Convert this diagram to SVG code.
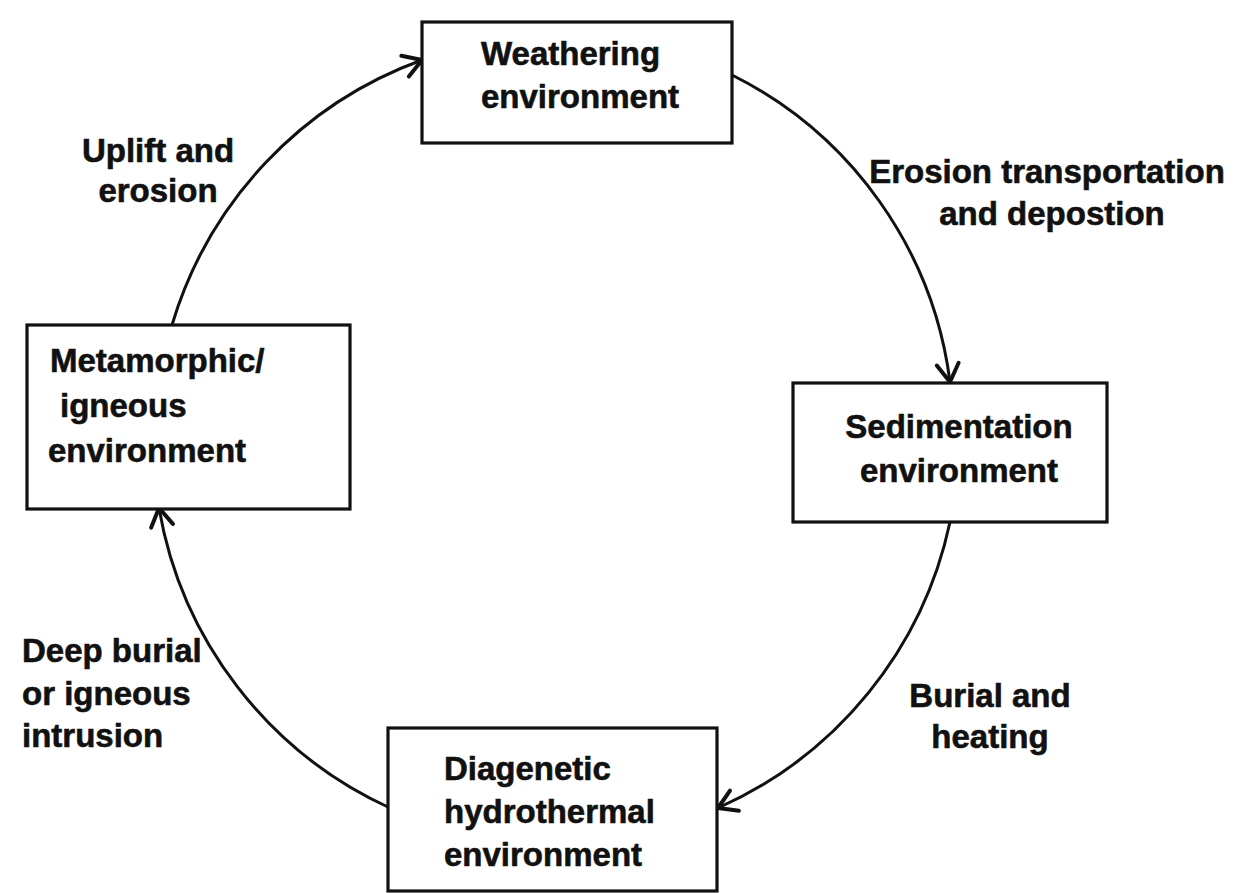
<svg xmlns="http://www.w3.org/2000/svg" width="1235" height="893" viewBox="0 0 1235 893">
  <style>
    .box { fill: #ffffff; stroke: #111111; stroke-width: 3.2; }
    .lbl { font-family: "Liberation Sans", Arial, sans-serif; font-weight: bold; font-size: 33px; fill: #111111; stroke: #111111; stroke-width: 0.6; }
    .mid { text-anchor: middle; }
    .conn { fill: none; stroke: #111111; stroke-width: 3; }
  </style>
  <defs>
    <marker id="arrow" markerUnits="userSpaceOnUse" markerWidth="30" markerHeight="30" viewBox="0 0 30 30" refX="26" refY="15" orient="auto">
      <path d="M8,4 L26,15 L8,26" fill="none" stroke="#111111" stroke-width="4" stroke-linecap="round" stroke-linejoin="round"/>
    </marker>
  </defs>
  <rect width="1235" height="893" fill="#ffffff"/>

  <g id="connectors">
    <path class="conn" d="M172,325 A405,405 0 0 1 422,60" marker-end="url(#arrow)"/>
    <path class="conn" d="M732,75 A400,400 0 0 1 950,382" marker-end="url(#arrow)"/>
    <path class="conn" d="M950,522 A405,405 0 0 1 718,808" marker-end="url(#arrow)"/>
    <path class="conn" d="M390,808 A405,405 0 0 1 159,508" marker-end="url(#arrow)"/>
  </g>

  <g id="node-weathering">
    <rect class="box" x="422" y="22" width="310" height="121"/>
    <text class="lbl" x="481" y="65">Weathering</text>
    <text class="lbl" x="481" y="108">environment</text>
  </g>

  <g id="node-sedimentation">
    <rect class="box" x="793" y="383" width="314" height="139"/>
    <text class="lbl mid" x="959" y="438">Sedimentation</text>
    <text class="lbl mid" x="959" y="482">environment</text>
  </g>

  <g id="node-diagenetic">
    <rect class="box" x="388" y="728" width="329" height="163"/>
    <text class="lbl" x="444" y="780">Diagenetic</text>
    <text class="lbl" x="444" y="823">hydrothermal</text>
    <text class="lbl" x="444" y="866">environment</text>
  </g>

  <g id="node-metamorphic">
    <rect class="box" x="27" y="325" width="323" height="184"/>
    <text class="lbl" x="50" y="372">Metamorphic/</text>
    <text class="lbl" x="60" y="417">igneous</text>
    <text class="lbl" x="48" y="462">environment</text>
  </g>

  <g id="edge-labels">
    <text class="lbl mid" x="158" y="162">Uplift and</text>
    <text class="lbl mid" x="158" y="202">erosion</text>
    <text class="lbl mid" x="1047" y="183">Erosion transportation</text>
    <text class="lbl mid" x="1052" y="225">and depostion</text>
    <text class="lbl mid" x="990" y="707">Burial and</text>
    <text class="lbl mid" x="990" y="748">heating</text>
    <text class="lbl" x="22" y="662">Deep burial</text>
    <text class="lbl" x="22" y="705">or igneous</text>
    <text class="lbl" x="22" y="747">intrusion</text>
  </g>
</svg>
